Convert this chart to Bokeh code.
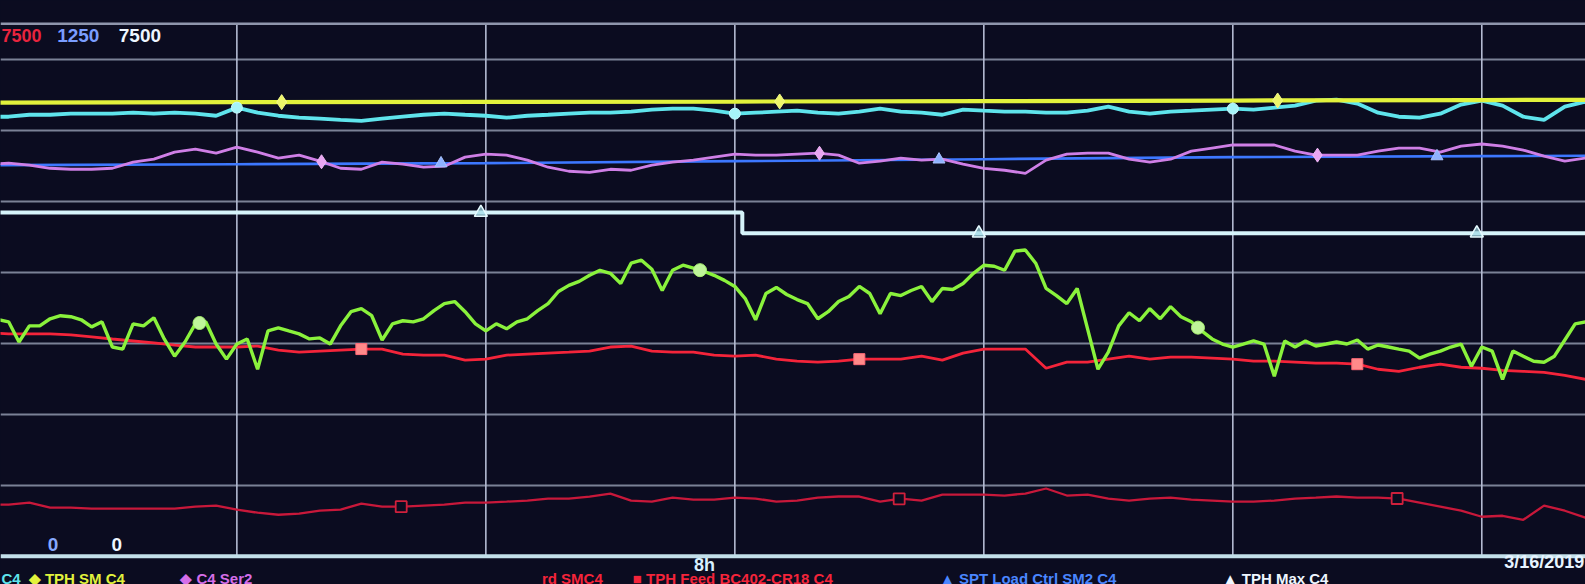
import numpy as np
from bokeh.plotting import figure
from bokeh.models import Range1d, FixedTicker, Span, Label
from bokeh.embed import file_html
from bokeh.resources import INLINE

# ---------------- data (trend pens, 0..7500 display scale) ----------------
START_H = 5.0            # first sample time (hours)
STEP_FINE = 2.5 / 60     # 2.5 minute sampling (hours)
STEP_STD = 5.0 / 60      # 5 minute sampling
STEP_HOUR = 1.0          # hourly sampling

yellow_vals = [6389, 6395, 6400, 6404, 6410, 6418, 6425, 6432]
blue_vals = [5507, 5521, 5536, 5564, 5592, 5621, 5635, 5649]

white_times = [5.0, 8.03, 11.5]
white_vals = [4840, 4550, 4550]

cyan_vals = [6190, 6190, 6218, 6218, 6233, 6233, 6233, 6247, 6233, 6247, 6233, 6204, 6318, 6247,
             6204, 6176, 6162, 6147, 6133, 6162, 6190, 6218, 6233, 6218, 6204, 6176, 6204, 6218,
             6233, 6247, 6247, 6261, 6290, 6304, 6304, 6275, 6233, 6247, 6261, 6275, 6247, 6233,
             6261, 6304, 6261, 6247, 6218, 6290, 6275, 6261, 6261, 6247, 6247, 6275, 6332, 6261,
             6233, 6261, 6275, 6290, 6304, 6290, 6318, 6347, 6418, 6432, 6375, 6247, 6190, 6176,
             6233, 6361, 6418, 6347, 6190, 6147, 6332, 6404, 6147]

purple_vals = [5521, 5535, 5507, 5464, 5450, 5450, 5464, 5550, 5592, 5692, 5735, 5678, 5763, 5692,
               5607, 5649, 5564, 5464, 5450, 5550, 5521, 5479, 5493, 5621, 5664, 5649, 5578, 5479,
               5422, 5407, 5450, 5436, 5507, 5550, 5578, 5621, 5664, 5649, 5649, 5664, 5678, 5649,
               5535, 5564, 5607, 5578, 5592, 5521, 5464, 5436, 5393, 5578, 5664, 5678, 5678, 5592,
               5550, 5592, 5706, 5749, 5792, 5792, 5792, 5706, 5649, 5649, 5649, 5706, 5749, 5749,
               5692, 5777, 5806, 5777, 5720, 5635, 5564, 5607, 5592]

green_vals = [3316, 3330, 3301, 3017, 3244, 3244, 3344, 3387, 3373, 3330, 3230, 3301, 2946, 2917,
              3273, 3244, 3358, 3060, 2817, 3017, 3273, 3301, 2988, 2775, 2988, 3060, 2633, 3173,
              3216, 3173, 3131, 3060, 3074, 2988, 3244, 3444, 3486, 3387, 3045, 3273, 3316, 3301,
              3344, 3458, 3558, 3586, 3444, 3273, 3173, 3273, 3202, 3301, 3344, 3458, 3558, 3728,
              3814, 3871, 3956, 4027, 3984, 3842, 4127, 4169, 4041, 3742, 4027, 4098, 4056, 4013,
              3956, 3885, 3799, 3629, 3330, 3700, 3785, 3686, 3614, 3558, 3344, 3444, 3586, 3657,
              3799, 3700, 3415, 3700, 3671, 3742, 3799, 3586, 3771, 3757, 3842, 3984, 4098, 4084,
              4027, 4297, 4312, 4127, 3771, 3671, 3558, 3771, 3202, 2633, 2874, 3244, 3429, 3316,
              3486, 3344, 3515, 3373, 3301, 3173, 3060, 2988, 2946, 2988, 3031, 2988, 2533, 3031,
              2946, 3031, 2960, 2988, 3017, 2988, 3045, 2917, 2974, 2946, 2917, 2889, 2789, 2846,
              2889, 2946, 2988, 2675, 2946, 2889, 2490, 2889, 2817, 2746, 2732, 2817, 3045, 3273,
              3301, 3173, 3131]

red_vals = [3145, 3131, 3131, 3131, 3116, 3088, 3059, 3031, 3003, 2974, 2946, 2946, 2946, 2960,
            2903, 2874, 2889, 2903, 2917, 2917, 2846, 2832, 2832, 2761, 2775, 2832, 2846, 2860,
            2874, 2889, 2946, 2960, 2889, 2874, 2874, 2832, 2817, 2832, 2775, 2746, 2732, 2746,
            2775, 2775, 2775, 2817, 2761, 2860, 2917, 2917, 2917, 2647, 2732, 2732, 2775, 2817,
            2775, 2803, 2803, 2789, 2775, 2746, 2746, 2732, 2718, 2718, 2704, 2633, 2604, 2661,
            2704, 2661, 2647, 2618, 2604, 2590, 2547, 2490, 2490]

darkred_vals = [726, 726, 754, 683, 683, 669, 669, 669, 669, 669, 697, 712, 655, 612, 583, 598,
                640, 655, 740, 697, 697, 712, 726, 754, 754, 768, 783, 811, 811, 840, 882, 783,
                768, 825, 797, 797, 825, 811, 768, 783, 825, 840, 840, 768, 811, 783, 868, 868,
                868, 854, 882, 953, 854, 868, 811, 783, 811, 825, 797, 783, 768, 768, 783, 811,
                825, 840, 825, 825, 811, 754, 697, 640, 555, 569, 512, 712, 640, 541, 569]

# marker times (hours) for each pen
cyan_marks = [6.0, 8.0, 10.0]
yellow_marks = [6.18, 8.18, 10.18]
purple_marks = [6.34, 8.34, 10.34]
blue_marks = [6.82, 8.82, 10.82]
white_marks = [6.98, 8.98, 10.98]
green_marks = [5.85, 7.86, 9.86]
red_marks = [6.5, 8.5, 10.5]
darkred_marks = [6.66, 8.66, 10.66]

x_tick_hours = [6, 7, 8, 9, 10, 11]
y_grid_values = [1000, 2000, 3000, 4000, 5000, 6000, 7000]
Y_MAX = 7500

scale_labels_top = ["7500", "1250", "7500"]
scale_labels_bottom = ["0", "0"]
time_label = "8h"
date_label = "3/16/2019"
legend_items = ["C4", "\u25C6 TPH SM C4", "\u25C6 C4 Ser2", "rd SMC4",
                "\u25A0 TPH Feed BC402-CR18 C4", "\u25B2 SPT Load Ctrl SM2 C4", "\u25B2 TPH Max C4"]


def times(vals, step):
    return START_H + np.arange(len(vals)) * step


# ------------- geometry: frame fills the canvas; helpers in picture px -------------
W, H = 1601, 590
PX_PER_H = 246.5          # picture pixels per hour
X8 = 727                  # picture x of the 8h grid line
Y0, YT = 550, 23          # picture y of value 0 and of value 7500
PIC_W, PIC_H = 1585, 584


def hx(px):
    return 8 + (px - X8) / PX_PER_H


def vy(py):
    return (Y0 - py) * Y_MAX / (Y0 - YT)


BG = "#0b0c20"

p = figure(width=W, height=H, output_backend="svg", toolbar_location=None,
           x_range=Range1d(hx(0), hx(PIC_W)), y_range=Range1d(vy(PIC_H), vy(0)),
           min_border_left=0, min_border_right=0, min_border_top=0, min_border_bottom=0)
p.background_fill_color = BG
p.border_fill_color = BG
p.outline_line_color = None
p.xaxis.visible = False
p.yaxis.visible = False
p.xgrid.visible = False
p.ygrid.ticker = FixedTicker(ticks=y_grid_values)
p.ygrid.grid_line_color = "#7b8196"
p.ygrid.grid_line_width = 2.2

# vertical time grid lines, only between the bottom axis and the top border
p.segment(x0=x_tick_hours, y0=[0] * len(x_tick_hours), x1=x_tick_hours,
          y1=[Y_MAX] * len(x_tick_hours), line_color="#b4bbd2", line_width=1.6)

p.add_layout(Span(location=Y_MAX, dimension="width", line_color="#8f96ac", line_width=2.5))
p.add_layout(Span(location=0, dimension="width", line_color="#c3e0ea", line_width=4))


def pen(vals, step, color, width):
    t = times(vals, step)
    p.line(t, vals, line_color=color, line_width=width)
    return t


def marks(mt, t, vals, marker, size, fill, line, fill_alpha=1.0, lw=1.0):
    y = np.interp(mt, t, vals)
    p.scatter(mt, y, marker=marker, size=size, fill_color=fill, line_color=line,
              fill_alpha=fill_alpha, line_width=lw)


t_dr = pen(darkred_vals, STEP_STD, "#c8183a", 2.3)
t_r = pen(red_vals, STEP_STD, "#f4243a", 2.8)
t_g = pen(green_vals, STEP_FINE, "#8af23c", 3.4)
p.step(white_times, white_vals, mode="after", line_color="#d6f4fa", line_width=4)
t_b = pen(blue_vals, STEP_HOUR, "#3d78ff", 2.6)
t_p = pen(purple_vals, STEP_STD, "#cf7fe6", 2.8)
t_c = pen(cyan_vals, STEP_STD, "#5fe4ec", 3.8)
t_y = pen(yellow_vals, STEP_HOUR, "#e2f23c", 4.2)

marks(darkred_marks, t_dr, darkred_vals, "square", 11, BG, "#d0203c", 1.0, 1.8)
marks(red_marks, t_r, red_vals, "square", 11, "#ff8a8a", "#ff6a78")
marks(green_marks, t_g, green_vals, "circle", 13, "#bff59a", "#a8f070")
wy = [white_vals[0] if m < white_times[1] else white_vals[1] for m in white_marks]
p.scatter(white_marks, wy, marker="triangle", size=13, fill_color="#9fd8e4", fill_alpha=0.7,
          line_color="#e6fbff", line_width=1.5)
marks(blue_marks, t_b, blue_vals, "triangle", 12, "#8fb2ff", "#a9c4ff")
marks(purple_marks, t_p, purple_vals, "diamond", 14, "#e9a6f2", "#f0b8f6")
marks(cyan_marks, t_c, cyan_vals, "circle", 11, "#a6f4f8", "#c4fbff")
marks(yellow_marks, t_y, yellow_vals, "diamond", 15, "#eef66a", "#f4fa8a")

# ---------------- text ----------------
FONT = "Liberation Sans"


def lab(text, px, py, color, size, align="center", baseline="middle"):
    p.add_layout(Label(x=hx(px), y=vy(py), text=text, text_color=color, text_font=FONT,
                       text_font_size=f"{size}px", text_font_style="bold",
                       text_align=align, text_baseline=baseline))


lab(scale_labels_top[0], 1, 35, "#e8243e", 18, align="left")
lab(scale_labels_top[1], 77, 35, "#7a9dff", 19)
lab(scale_labels_top[2], 138, 35, "#eef6ff", 19)
lab(scale_labels_bottom[0], 52, 538, "#86a8ff", 19)
lab(scale_labels_bottom[1], 115, 538, "#eef6ff", 19)
lab(time_label, 697, 559, "#d8f0ff", 18)
lab(date_label, 1568, 556, "#e6f4ff", 18, align="right")

legend_y = 572
legend_x = [1, 28, 178, 536, 626, 930, 1210]
legend_colors = ["#5fe4ec", "#e2f23c", "#d56ee8", "#f4243a", "#f4243a", "#4a86ff", "#eef6ff"]
for txt, lx, lc in zip(legend_items, legend_x, legend_colors):
    lab(txt, lx, legend_y, lc, 15, align="left", baseline="middle")

html = file_html(p, INLINE, title="Trend")
html = html.replace("</head>", "<style>html,body{background:#0b0c20;}</style></head>", 1)
open("out.html", "w").write(html)
